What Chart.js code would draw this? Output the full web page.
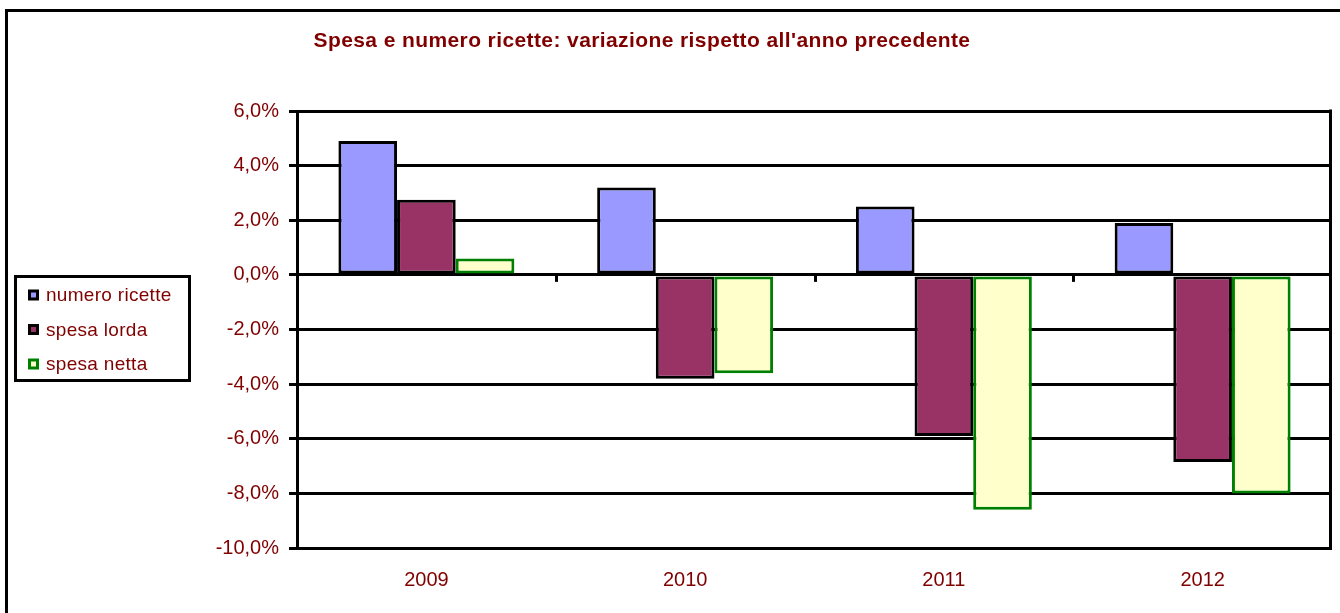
<!DOCTYPE html>
<html>
<head>
<meta charset="utf-8">
<script src="https://cdn.jsdelivr.net/npm/chart.js@4"></script>
<style>
  html, body { margin: 0; padding: 0; background: #fff; }
  #wrap { width: 1340px; height: 613px; position: relative; }
</style>
</head>
<body>
<div id="wrap"><canvas id="bar-chart"></canvas></div>
<script>
var categories = ['2009', '2010', '2011', '2012'];
var numeroRicette = [4.9, 3.2, 2.5, 1.9];
var spesaLorda = [2.75, -3.8, -5.9, -6.85];
var spesaNetta = [0.6, -3.6, -8.6, -8.0];
var seriesLabels = ['numero ricette', 'spesa lorda', 'spesa netta'];
var yMin = -10, yMax = 6, yStep = 2;
var title = "Spesa e numero ricette: variazione rispetto all'anno precedente";

var darkRed = '#800000';
var font = 'Liberation Sans, Arial, sans-serif';

// frame, plot border, zero line ticks, legend and title
var extras = {
  id: 'extras',
  afterDraw: function (chart) {
    var ctx = chart.ctx;
    var area = chart.chartArea;
    var y = chart.scales.y;
    ctx.save();
    ctx.strokeStyle = '#000';
    ctx.lineWidth = 3;

    // outer frame
    ctx.beginPath();
    ctx.moveTo(6.5, 613);
    ctx.lineTo(6.5, 10.5);
    ctx.lineTo(1340, 10.5);
    ctx.stroke();

    // right side of plot
    ctx.beginPath();
    ctx.moveTo(area.right - 1.5, area.top - 1.5);
    ctx.lineTo(area.right - 1.5, area.bottom + 1.5);
    ctx.stroke();

    // category ticks on the zero line
    var y0 = y.getPixelForValue(0);
    var n = chart.data.labels.length;
    var w = (area.right - area.left) / n;
    for (var i = 1; i < n; i++) {
      var px = Math.round(area.left + w * i) + 0.5;
      ctx.beginPath();
      ctx.moveTo(px, y0);
      ctx.lineTo(px, y0 + 7);
      ctx.stroke();
    }

    // legend
    ctx.strokeRect(15.5, 276.5, 174, 104);
    ctx.font = '19px ' + font;
    ctx.letterSpacing = '0.3px';
    ctx.textBaseline = 'middle';
    chart.data.datasets.forEach(function (ds, k) {
      var cy = 295 + k * 34.5;
      ctx.fillStyle = ds.borderColor;
      ctx.fillRect(28, cy - 5.5, 11, 11);
      ctx.fillStyle = ds.backgroundColor;
      ctx.fillRect(31, cy - 2.5, 5, 5);
      ctx.fillStyle = darkRed;
      ctx.fillText(ds.label, 46, cy + 1);
    });

    // title
    ctx.font = 'bold 21px ' + font;
    ctx.letterSpacing = '0.4px';
    ctx.textAlign = 'center';
    ctx.fillStyle = darkRed;
    ctx.fillText(title, 642, 41);
    ctx.restore();
  }
};

var config = {
  type: 'bar',
  data: {
    labels: categories,
    datasets: [
      {
        label: seriesLabels[0],
        data: numeroRicette,
        backgroundColor: '#9999ff',
        borderColor: '#000000'
      },
      {
        label: seriesLabels[1],
        data: spesaLorda,
        backgroundColor: '#993366',
        borderColor: '#000000'
      },
      {
        label: seriesLabels[2],
        data: spesaNetta,
        backgroundColor: '#ffffcc',
        borderColor: '#008000'
      }
    ]
  },
  options: {
    responsive: true,
    maintainAspectRatio: false,
    animation: false,
    layout: { padding: { top: 111, right: 8, left: 0, bottom: 0 } },
    datasets: {
      bar: {
        borderWidth: 3,
        borderSkipped: false,
        categoryPercentage: 0.68,
        barPercentage: 1
      }
    },
    plugins: {
      legend: { display: false },
      title: { display: false },
      tooltip: { enabled: false }
    },
    scales: {
      x: {
        grid: { display: false },
        border: { display: false },
        ticks: {
          color: darkRed,
          font: { family: font, size: 20 },
          padding: 12
        },
        afterFit: function (s) { s.height = 65; }
      },
      y: {
        min: yMin,
        max: yMax,
        grid: { color: '#000', lineWidth: 3, tickLength: 8 },
        border: { color: '#000', width: 3 },
        ticks: {
          stepSize: yStep,
          color: darkRed,
          font: { family: font, size: 20 },
          padding: 10,
          callback: function (v) { return v.toFixed(1).replace('.', ',') + '%'; }
        },
        afterFit: function (s) { s.width = 297; }
      }
    }
  },
  plugins: [extras]
};

var ctx = document.getElementById('bar-chart').getContext('2d');
var myChart = new Chart(ctx, config);
</script>
</body>
</html>
